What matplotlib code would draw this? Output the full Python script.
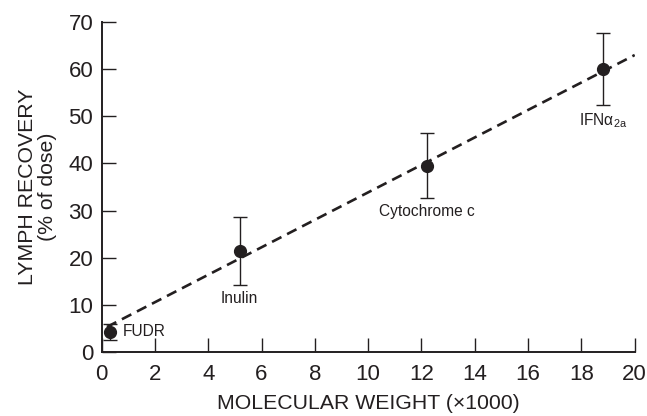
import matplotlib
matplotlib.use("Agg")
import matplotlib.pyplot as plt

plt.rcParams['font.family'] = ['Liberation Sans', 'DejaVu Sans']
plt.rcParams['mathtext.fontset'] = 'custom'
plt.rcParams['mathtext.rm'] = 'Liberation Sans'
plt.rcParams['mathtext.it'] = 'Liberation Sans:italic'

# data
names = ['FUDR', 'Inulin', 'Cytochrome c', r'IFN$\mathregular{\alpha_{2a}}$']
mol_weight = [0.31, 5.18, 12.2, 18.82]
recovery = [4.3, 21.4, 39.5, 60.0]
err = [1.7, 7.2, 6.9, 7.7]

# regression line endpoints
line_x = [0.2, 20.0]
line_y = [5.3, 63.0]

ink = '#231f20'

fig = plt.figure(figsize=(6.47, 4.16), dpi=100)
ax = fig.add_axes([0.157, 0.154, 0.824, 0.793])

ax.plot(line_x, line_y, ls=(0, (4, 2.4)), lw=1.9, color=ink, zorder=2)
ax.errorbar(mol_weight, recovery, yerr=err, fmt='o', ms=8.5, color=ink,
            ecolor=ink, elinewidth=1.0, capsize=5, capthick=1.0, zorder=3)

# point labels
fs = 11.2
ax.text(mol_weight[0] + 0.5, recovery[0], names[0], fontsize=fs, color=ink,
        ha='left', va='center')
ax.text(mol_weight[1], recovery[1] - err[1] - 1.2, names[1], fontsize=fs,
        color=ink, ha='center', va='top')
ax.text(mol_weight[2], recovery[2] - err[2] - 1.2, names[2], fontsize=fs,
        color=ink, ha='center', va='top')
ax.text(mol_weight[3], recovery[3] - err[3] - 1.2, names[3], fontsize=fs,
        color=ink, ha='center', va='top')

ax.set_xlim(0, 20)
ax.set_ylim(0, 70)
ax.set_xticks(range(0, 21, 2))
ax.set_yticks(range(0, 71, 10))
for s in ['top', 'right']:
    ax.spines[s].set_visible(False)
for s in ['left', 'bottom']:
    ax.spines[s].set_linewidth(1.4)
    ax.spines[s].set_color(ink)
ax.tick_params(direction='in', length=10, width=1.0, colors=ink,
               labelsize=16)
ax.tick_params(axis='x', pad=9)
ax.tick_params(axis='y', pad=6)

ax.set_xlabel('MOLECULAR WEIGHT (\u00d71000)', fontsize=15.3, color=ink, labelpad=6)
ax.set_ylabel('LYMPH RECOVERY\n(% of dose)', fontsize=15.3, color=ink,
              labelpad=8, linespacing=1.1)

fig.savefig('out.png', dpi=100)
